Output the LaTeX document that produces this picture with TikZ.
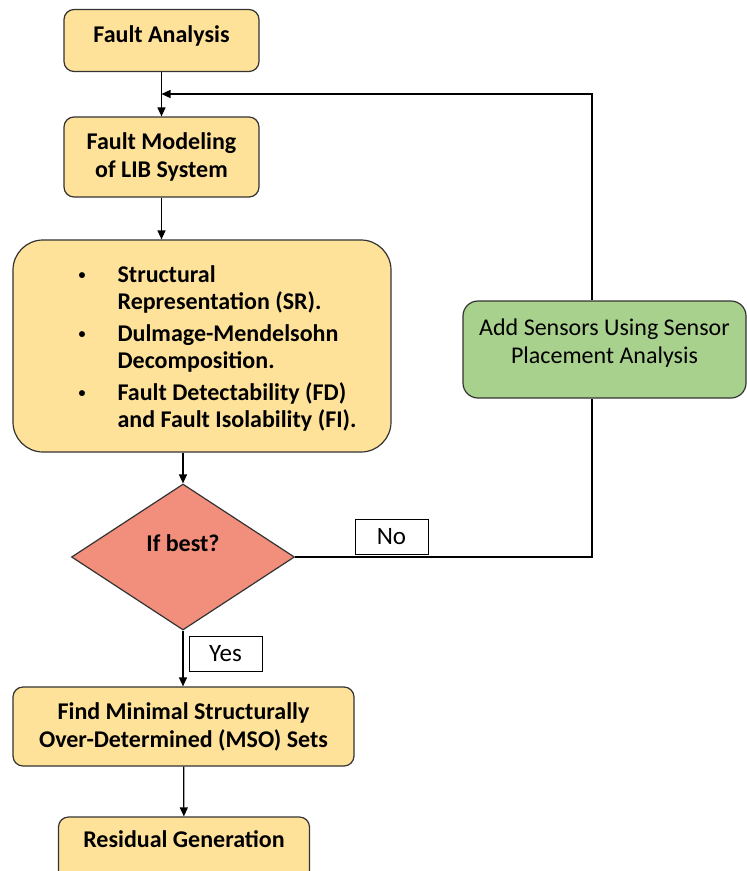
\documentclass[tikz,border=0pt]{standalone}
\usepackage{fontspec}
\setmainfont{Carlito}
\usetikzlibrary{shapes.geometric,arrows.meta}
\definecolor{boxyellow}{RGB}{255,226,153}
\definecolor{boxgreen}{RGB}{169,209,142}
\definecolor{decred}{RGB}{241,143,124}
\newcommand{\itembul}{\raisebox{3pt}{\fontsize{14}{14}\selectfont\textbullet}}
\begin{document}
\begin{tikzpicture}[x=1pt,y=-1pt,
  every node/.style={font=\fontsize{24}{28}\selectfont},
  yelbox/.style={draw=black!80,line width=1.2pt,fill=boxyellow,rounded corners=10pt,
    align=center,font=\fontsize{24}{28}\selectfont\bfseries},
  lbl/.style={draw,line width=1pt,fill=white,minimum width=73pt,minimum height=35pt,inner sep=0pt,
    font=\fontsize{25}{28}\selectfont},
  arr/.style={-{Triangle[length=9pt,width=8pt]},line width=1.2pt}]
  \useasboundingbox (0,0) rectangle (747,871);

  % main chain
  \node[yelbox,minimum width=195pt,minimum height=62pt,text height=15pt,text depth=12pt] (fa) at (161.5,40.5) {Fault Analysis};
  \node[yelbox,minimum width=195pt,minimum height=80pt] (fm) at (161.5,157) {Fault Modeling\\of LIB System};
  \node[yelbox,rounded corners=30pt,minimum width=378pt,minimum height=212pt] (meth) at (202,346) {%
    \fontsize{24}{27}\selectfont
    \begin{tabular}{@{\hspace{31pt}}p{39pt}@{}l@{}}
      \itembul & Structural\rule{0pt}{27pt}\\
               & Representation (SR).\\[5pt]
      \itembul & Dulmage-Mendelsohn\\
               & Decomposition.\\[5pt]
      \itembul & Fault Detectability (FD)\\
               & and Fault Isolability (FI).
    \end{tabular}};
  \node[diamond,draw=black!80,line width=1.2pt,fill=decred,minimum width=223pt,minimum height=146pt,
    inner sep=0pt,font=\fontsize{24}{28}\selectfont\bfseries,text height=15pt,text depth=26pt] (dec) at (183,557) {If best?};
  \node[yelbox,minimum width=341pt,minimum height=79pt] (find) at (183.5,726.5) {Find Minimal Structurally\\Over-Determined (MSO) Sets};
  \node[yelbox,minimum width=251pt,minimum height=64pt,text height=15pt,text depth=18pt] (res) at (184,849) {Residual Generation};

  % feedback branch
  \node[draw=black!80,line width=1.2pt,fill=boxgreen,rounded corners=15pt,minimum width=283pt,minimum height=97pt,
    align=center] (add) at (604.5,349.5) {Add Sensors Using Sensor\\Placement Analysis\\[-12pt]{}};
  \node[lbl] (no) at (391.5,537) {No};
  \node[lbl] (yes) at (225.5,654) {Yes};
  \coordinate (corner) at (592,557);
  \coordinate (turn) at (592,94);

  \draw[arr] (fa) -- (fm);
  \draw[arr] (fm) -- (fm.south |- meth.north);
  \draw[arr] (dec.north |- meth.south) -- (dec);
  \draw[arr] (dec) -- (dec.south |- find.north);
  \draw[arr] (find) -- (res);
  \draw[line width=1.2pt] (dec.east) -- (corner) -- (corner |- add.south);
  \draw[arr] (corner |- add.north) -- (turn) -- (fa.south |- turn);
\end{tikzpicture}
\end{document}
